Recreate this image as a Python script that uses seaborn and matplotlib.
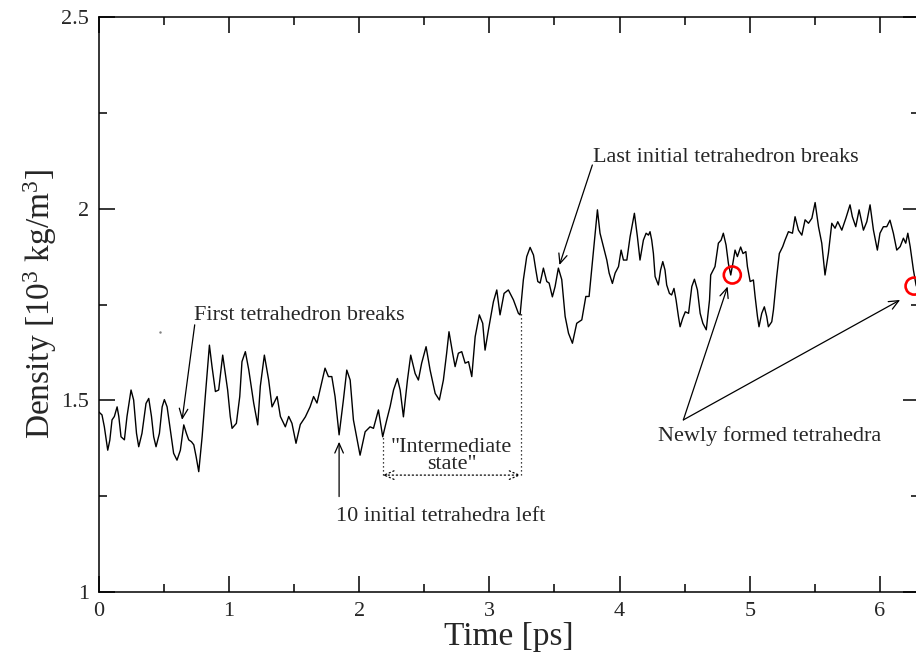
import numpy as np
import pandas as pd
import matplotlib
matplotlib.use("Agg")
import matplotlib.pyplot as plt
import seaborn as sns
from matplotlib.ticker import MultipleLocator, FixedLocator, FixedFormatter

# ---------------- data ----------------
time_ps = [
    0.000, 0.025, 0.043, 0.069, 0.085, 0.102, 0.120, 0.141, 0.154, 0.171,
    0.197, 0.217, 0.248, 0.268, 0.290, 0.307, 0.332, 0.363, 0.384, 0.405,
    0.422, 0.440, 0.466, 0.487, 0.504, 0.525, 0.550, 0.575, 0.601, 0.627,
    0.653, 0.673, 0.691, 0.712, 0.730, 0.748, 0.768, 0.794, 0.820, 0.850,
    0.870, 0.896, 0.921, 0.952, 0.972, 0.990, 1.010, 1.024, 1.057, 1.083,
    1.100, 1.126, 1.152, 1.190, 1.221, 1.241, 1.272, 1.305, 1.331, 1.370,
    1.395, 1.433, 1.459, 1.484, 1.515, 1.548, 1.587, 1.623, 1.650, 1.676,
    1.705, 1.738, 1.764, 1.790, 1.815, 1.846, 1.879, 1.905, 1.931, 1.956,
    2.007, 2.046, 2.084, 2.110, 2.148, 2.181, 2.212, 2.238, 2.264, 2.294,
    2.315, 2.340, 2.371, 2.396, 2.430, 2.455, 2.480, 2.514, 2.545, 2.584,
    2.616, 2.647, 2.672, 2.690, 2.718, 2.737, 2.762, 2.788, 2.814, 2.840,
    2.865, 2.891, 2.923, 2.949, 2.967, 2.993, 3.031, 3.057, 3.082, 3.113,
    3.146, 3.185, 3.223, 3.236, 3.261, 3.287, 3.313, 3.339, 3.357, 3.372,
    3.390, 3.415, 3.441, 3.459, 3.484, 3.505, 3.530, 3.556, 3.582, 3.608,
    3.638, 3.671, 3.710, 3.741, 3.766, 3.800, 3.830, 3.850, 3.876, 3.902,
    3.920, 3.945, 3.966, 3.992, 4.012, 4.030, 4.056, 4.081, 4.114, 4.137,
    4.157, 4.183, 4.204, 4.222, 4.234, 4.247, 4.260, 4.273, 4.298, 4.315,
    4.332, 4.349, 4.362, 4.383, 4.400, 4.418, 4.434, 4.452, 4.465, 4.485,
    4.505, 4.530, 4.555, 4.575, 4.598, 4.619, 4.640, 4.666, 4.691, 4.700,
    4.733, 4.759, 4.780, 4.797, 4.818, 4.836, 4.854, 4.870, 4.887, 4.905,
    4.930, 4.948, 4.970, 4.982, 5.003, 5.028, 5.041, 5.059, 5.071, 5.092,
    5.112, 5.130, 5.143, 5.169, 5.182, 5.207, 5.227, 5.253, 5.271, 5.297,
    5.328, 5.348, 5.374, 5.400, 5.425, 5.451, 5.477, 5.502, 5.528, 5.553,
    5.578, 5.604, 5.630, 5.655, 5.676, 5.707, 5.738, 5.770, 5.788, 5.814,
    5.840, 5.873, 5.899, 5.924, 5.950, 5.980, 6.000, 6.026, 6.052, 6.077,
    6.103, 6.129, 6.155, 6.180, 6.198, 6.214, 6.232, 6.257, 6.277, 6.300,
]
density = [
    1.470, 1.462, 1.431, 1.370, 1.396, 1.449, 1.458, 1.483, 1.458, 1.405,
    1.397, 1.458, 1.527, 1.501, 1.414, 1.379, 1.414, 1.492, 1.505, 1.458,
    1.405, 1.379, 1.414, 1.483, 1.502, 1.483, 1.423, 1.362, 1.344, 1.370,
    1.436, 1.414, 1.397, 1.392, 1.384, 1.353, 1.314, 1.405, 1.518, 1.644,
    1.588, 1.523, 1.527, 1.618, 1.570, 1.527, 1.458, 1.427, 1.440, 1.510,
    1.601, 1.627, 1.580, 1.493, 1.436, 1.537, 1.618, 1.553, 1.483, 1.510,
    1.458, 1.431, 1.458, 1.440, 1.388, 1.437, 1.457, 1.483, 1.510, 1.493,
    1.536, 1.584, 1.562, 1.562, 1.510, 1.410, 1.501, 1.579, 1.553, 1.449,
    1.357, 1.418, 1.431, 1.427, 1.475, 1.405, 1.449, 1.484, 1.527, 1.557,
    1.527, 1.457, 1.553, 1.618, 1.570, 1.553, 1.597, 1.640, 1.579, 1.518,
    1.501, 1.553, 1.623, 1.679, 1.623, 1.588, 1.623, 1.627, 1.597, 1.601,
    1.562, 1.666, 1.723, 1.701, 1.631, 1.684, 1.757, 1.788, 1.723, 1.779,
    1.788, 1.762, 1.727, 1.723, 1.814, 1.875, 1.899, 1.879, 1.840, 1.810,
    1.806, 1.845, 1.810, 1.806, 1.770, 1.797, 1.845, 1.815, 1.719, 1.675,
    1.649, 1.701, 1.710, 1.771, 1.771, 1.892, 1.997, 1.936, 1.901, 1.866,
    1.832, 1.805, 1.832, 1.849, 1.892, 1.866, 1.866, 1.927, 1.988, 1.927,
    1.866, 1.918, 1.936, 1.931, 1.940, 1.918, 1.883, 1.823, 1.801, 1.840,
    1.862, 1.840, 1.801, 1.779, 1.775, 1.792, 1.762, 1.719, 1.692, 1.714,
    1.731, 1.727, 1.797, 1.816, 1.788, 1.727, 1.701, 1.684, 1.762, 1.827,
    1.849, 1.910, 1.918, 1.936, 1.905, 1.857, 1.827, 1.857, 1.892, 1.875,
    1.900, 1.883, 1.888, 1.849, 1.810, 1.814, 1.771, 1.719, 1.692, 1.727,
    1.744, 1.719, 1.692, 1.705, 1.736, 1.823, 1.883, 1.901, 1.918, 1.940,
    1.936, 1.979, 1.944, 1.931, 1.971, 1.962, 1.975, 2.016, 1.953, 1.910,
    1.827, 1.884, 1.962, 1.949, 1.966, 1.944, 1.975, 2.010, 1.979, 1.953,
    1.997, 1.944, 1.966, 2.010, 1.944, 1.892, 1.936, 1.953, 1.953, 1.970,
    1.936, 1.892, 1.901, 1.923, 1.910, 1.936, 1.901, 1.840, 1.801, 1.780,
]

# newly formed tetrahedra (red circles)
circle_time = [4.866, 6.262]
circle_density = [1.827, 1.798]

x_ticks = [0, 1, 2, 3, 4, 5, 6]
x_tick_labels = ["0", "1", "2", "3", "4", "5", "6"]
y_ticks = [1.0, 1.5, 2.0, 2.5]
y_tick_labels = ["1", "1.5", "2", "2.5"]

# ---------------- style ----------------
sns.set_style("ticks")
plt.rcParams["font.family"] = ["Liberation Serif", "DejaVu Serif"]
plt.rcParams["mathtext.fontset"] = "custom"
plt.rcParams["mathtext.rm"] = "Liberation Serif"
plt.rcParams["mathtext.default"] = "regular"

fig = plt.figure(figsize=(9.16, 6.57), dpi=100)
fig.patch.set_facecolor("white")
ax = fig.add_axes([0.1078, 0.0989, 0.8955, 0.8752])
ax.set_facecolor("white")

df = pd.DataFrame({"Time": time_ps, "Density": density})
sns.lineplot(data=df, x="Time", y="Density", ax=ax, color="black",
             linewidth=1.0, sort=False, estimator=None)

cdf = pd.DataFrame({"Time": circle_time, "Density": circle_density})
sns.scatterplot(data=cdf, x="Time", y="Density", ax=ax, s=150,
                facecolors="none", edgecolor="red", linewidth=1.9,
                zorder=5, clip_on=True)

# tiny stray dot present in the reference
ax.plot([0.473], [1.679], marker=".", markersize=1.5, color="0.5")

ax.set_xlim(0, 6.3)
ax.set_ylim(1, 2.5)

ax.xaxis.set_major_locator(FixedLocator(x_ticks))
ax.xaxis.set_major_formatter(FixedFormatter(x_tick_labels))
ax.xaxis.set_minor_locator(MultipleLocator(0.5))
ax.yaxis.set_major_locator(FixedLocator(y_ticks))
ax.yaxis.set_major_formatter(FixedFormatter(y_tick_labels))
ax.yaxis.set_minor_locator(MultipleLocator(0.25))

ax.tick_params(which="both", direction="in", top=True, right=True,
               width=1.1, color="black")
ax.tick_params(which="major", length=11.5, labelsize=16, pad=7)
ax.tick_params(which="minor", length=5.8)
for sp in ax.spines.values():
    sp.set_linewidth(1.1)
    sp.set_color("black")

ax.set_xlabel("Time [ps]", fontsize=24)
ax.set_ylabel(r"Density [10$^{3}$ kg/m$^{3}$]", fontsize=24)
ax.xaxis.set_label_coords(0.5, -0.052)
ax.yaxis.set_label_coords(-0.049, 0.5)

# ---------------- annotations ----------------
fs = 16
arrow = dict(arrowstyle="->,head_length=0.5,head_width=0.22", color="black",
             lw=0.9, shrinkA=0, shrinkB=0, mutation_scale=14)

ax.text(0.734, 1.7096, "First tetrahedron breaks", fontsize=fs,
        ha="left", va="baseline")
ax.annotate("", xy=(0.640, 1.449), xytext=(0.737, 1.697), arrowprops=arrow)

ax.text(3.799, 2.1227, "Last initial tetrahedron breaks", fontsize=fs,
        ha="left", va="baseline")
ax.annotate("", xy=(3.538, 1.853), xytext=(3.791, 2.114), arrowprops=arrow)

ax.text(1.823, 1.184, "10 initial tetrahedra left", fontsize=fs,
        ha="left", va="baseline")
ax.annotate("", xy=(1.846, 1.392), xytext=(1.846, 1.249), arrowprops=arrow)

ax.text(2.710, 1.366, "\"Intermediate", fontsize=fs, ha="center",
        va="baseline")
ax.text(2.714, 1.321, "state\"", fontsize=fs, ha="center", va="baseline")
dotted = dict(arrowstyle="<->,head_length=0.5,head_width=0.22", color="black",
              lw=0.9, ls=(0, (1, 2.2)), shrinkA=0, shrinkB=0,
              mutation_scale=14)
ax.annotate("", xy=(3.24, 1.305), xytext=(2.181, 1.305), arrowprops=dotted)
ax.plot([2.181, 2.181], [1.305, 1.405], color="black", lw=0.9,
        ls=(0, (1, 2.2)))
ax.plot([3.24, 3.24], [1.305, 1.727], color="black", lw=0.9,
        ls=(0, (1, 2.2)))

ax.text(4.298, 1.393, "Newly formed tetrahedra", fontsize=fs,
        ha="left", va="baseline")
ax.annotate("", xy=(4.83, 1.797), xytext=(4.49, 1.449), arrowprops=arrow)
ax.annotate("", xy=(6.155, 1.762), xytext=(4.49, 1.449), arrowprops=arrow)

fig.savefig("out.png", dpi=100, facecolor="white")
